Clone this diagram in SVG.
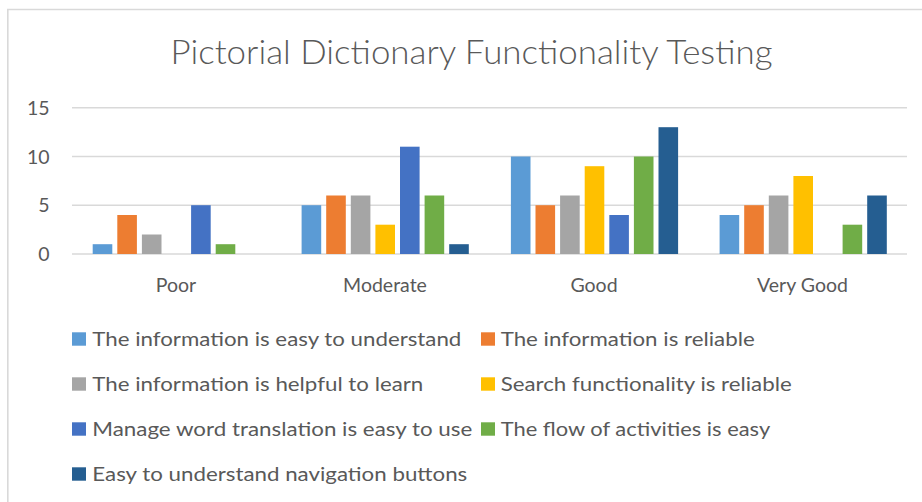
<svg xmlns="http://www.w3.org/2000/svg" width="922" height="502" viewBox="0 0 922 502">
  <style>
    .txt { font-family: Lato, "Liberation Sans", sans-serif; fill: #595959; }
    .title { font-size: 34px; font-weight: 300; }
    .axis { font-size: 19.5px; }
    .leg { font-size: 19.5px; }
    .grid { stroke: #d9d9d9; stroke-width: 1.6; }
    .s1 { fill: #5B9BD5; }
    .s2 { fill: #ED7D31; }
    .s3 { fill: #A5A5A5; }
    .s4 { fill: #FFC000; }
    .s5 { fill: #4472C4; }
    .s6 { fill: #70AD47; }
    .s7 { fill: #255E91; }
  </style>
  <rect x="0" y="0" width="922" height="502" fill="#ffffff"/>

  <!-- chart frame: left and top edges -->
  <g id="frame" fill="none" stroke="#d9d9d9" stroke-width="1.6">
    <path d="M7.8 502 V9.5 H922"/>
  </g>

  <g id="title">
    <text class="txt title" x="170.5" y="64" textLength="602" lengthAdjust="spacingAndGlyphs">Pictorial Dictionary Functionality Testing</text>
  </g>

  <!-- value gridlines -->
  <g id="gridlines">
    <line class="grid" x1="72" y1="107.7" x2="907" y2="107.7"/>
    <line class="grid" x1="72" y1="156.5" x2="907" y2="156.5"/>
    <line class="grid" x1="72" y1="205.2" x2="907" y2="205.2"/>
    <line class="grid" x1="72" y1="254" x2="907" y2="254"/>
  </g>

  <g id="y-axis-labels" text-anchor="end">
    <text class="txt axis" x="49.5" y="114.7">15</text>
    <text class="txt axis" x="49.5" y="163.5">10</text>
    <text class="txt axis" x="49.5" y="212.2">5</text>
    <text class="txt axis" x="49.5" y="261">0</text>
  </g>

  <!-- bars: value unit = 9.753px, baseline y=254 -->
  <g id="bars-poor">
    <rect class="s1" x="92.7" y="244.2" width="19.6" height="9.8"/>
    <rect class="s2" x="117.3" y="215" width="19.6" height="39"/>
    <rect class="s3" x="141.9" y="234.5" width="19.6" height="19.5"/>
    <rect class="s5" x="191.1" y="205.2" width="19.6" height="48.8"/>
    <rect class="s6" x="215.7" y="244.2" width="19.6" height="9.8"/>
  </g>
  <g id="bars-moderate">
    <rect class="s1" x="301.6" y="205.2" width="19.6" height="48.8"/>
    <rect class="s2" x="326.2" y="195.5" width="19.6" height="58.5"/>
    <rect class="s3" x="350.8" y="195.5" width="19.6" height="58.5"/>
    <rect class="s4" x="375.4" y="224.7" width="19.6" height="29.3"/>
    <rect class="s5" x="400" y="146.7" width="19.6" height="107.3"/>
    <rect class="s6" x="424.6" y="195.5" width="19.6" height="58.5"/>
    <rect class="s7" x="449.2" y="244.2" width="19.6" height="9.8"/>
  </g>
  <g id="bars-good">
    <rect class="s1" x="510.9" y="156.5" width="19.6" height="97.5"/>
    <rect class="s2" x="535.5" y="205.2" width="19.6" height="48.8"/>
    <rect class="s3" x="560.1" y="195.5" width="19.6" height="58.5"/>
    <rect class="s4" x="584.7" y="166.2" width="19.6" height="87.8"/>
    <rect class="s5" x="609.3" y="215" width="19.6" height="39"/>
    <rect class="s6" x="633.9" y="156.5" width="19.6" height="97.5"/>
    <rect class="s7" x="658.5" y="127.2" width="19.6" height="126.8"/>
  </g>
  <g id="bars-very-good">
    <rect class="s1" x="719.6" y="215" width="19.6" height="39"/>
    <rect class="s2" x="744.2" y="205.2" width="19.6" height="48.8"/>
    <rect class="s3" x="768.8" y="195.5" width="19.6" height="58.5"/>
    <rect class="s4" x="793.4" y="176" width="19.6" height="78"/>
    <rect class="s6" x="842.6" y="224.7" width="19.6" height="29.3"/>
    <rect class="s7" x="867.2" y="195.5" width="19.6" height="58.5"/>
  </g>

  <g id="category-labels" text-anchor="middle">
    <text class="txt axis" x="176" y="291.7">Poor</text>
    <text class="txt axis" x="385" y="291.7">Moderate</text>
    <text class="txt axis" x="594" y="291.7">Good</text>
    <text class="txt axis" x="802.5" y="291.7">Very Good</text>
  </g>

  <g id="legend">
    <rect class="s1" x="72" y="332.3" width="14" height="13.4"/>
    <text class="txt leg" x="92.3" y="345.5" textLength="369" lengthAdjust="spacingAndGlyphs">The information is easy to understand</text>
    <rect class="s2" x="481" y="332.3" width="14" height="13.4"/>
    <text class="txt leg" x="500.7" y="345.5" textLength="254" lengthAdjust="spacingAndGlyphs">The information is reliable</text>

    <rect class="s3" x="72" y="377.3" width="14" height="13.4"/>
    <text class="txt leg" x="92.3" y="390.5" textLength="331" lengthAdjust="spacingAndGlyphs">The information is helpful to learn</text>
    <rect class="s4" x="481" y="377.3" width="14" height="13.4"/>
    <text class="txt leg" x="500.7" y="390.5" textLength="291" lengthAdjust="spacingAndGlyphs">Search functionality is reliable</text>

    <rect class="s5" x="72" y="422.3" width="14" height="13.4"/>
    <text class="txt leg" x="92.3" y="435.5" textLength="380" lengthAdjust="spacingAndGlyphs">Manage word translation is easy to use</text>
    <rect class="s6" x="481" y="422.3" width="14" height="13.4"/>
    <text class="txt leg" x="500.7" y="435.5" textLength="269.5" lengthAdjust="spacingAndGlyphs">The flow of activities is easy</text>

    <rect class="s7" x="72" y="467.3" width="14" height="13.4"/>
    <text class="txt leg" x="92.3" y="480.5" textLength="375" lengthAdjust="spacingAndGlyphs">Easy to understand navigation buttons</text>
  </g>
</svg>
